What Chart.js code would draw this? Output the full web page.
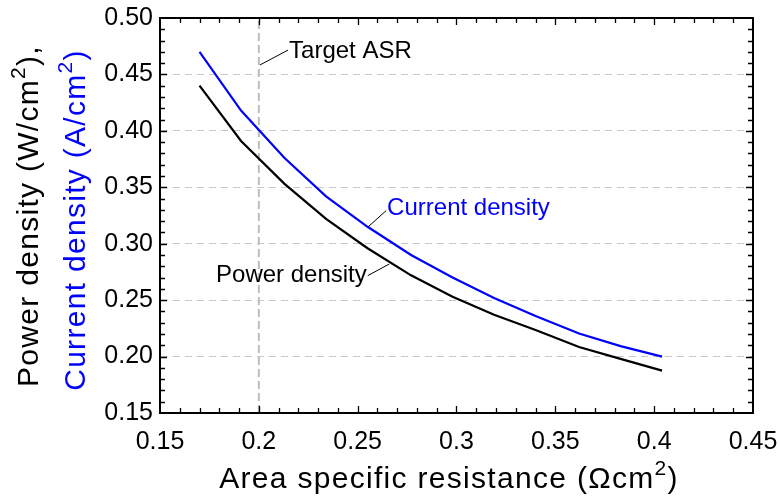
<!DOCTYPE html>
<html>
<head>
<meta charset="utf-8">
<script src="https://cdn.jsdelivr.net/npm/chart.js@4.4.1/dist/chart.umd.min.js"></script>
<style>
  html, body { margin: 0; padding: 0; background: #fff; }
</style>
</head>
<body>
<canvas id="asr-chart" width="780" height="500"></canvas>
<script>
// area specific resistance (ohm cm2)
var asr = [0.170, 0.191, 0.213, 0.234, 0.255, 0.277, 0.298, 0.319, 0.340, 0.362, 0.383, 0.404];
// A/cm2
var currentDensity = [0.470, 0.418, 0.376, 0.342, 0.315, 0.290, 0.270, 0.252, 0.236, 0.2205, 0.2093, 0.200];
// W/cm2
var powerDensity = [0.440, 0.391, 0.353, 0.322, 0.296, 0.272, 0.253, 0.237, 0.2235, 0.2085, 0.198, 0.1875];

var targetAsr = 0.2;
var yRange = [0.15, 0.50];

var xTickLabels = ["0.15", "0.2", "0.25", "0.3", "0.35", "0.4", "0.45"];
var yTickLabels = ["0.15", "0.20", "0.25", "0.30", "0.35", "0.40", "0.45", "0.50"];

var FONT = "'Liberation Sans', Arial, sans-serif";

// labels with leader lines, in data coordinates
var notes = [
    { text: "Target ASR", color: "#000", from: [0.2006, 0.4584], to: [0.2148, 0.4716], at: [0.2153, 0.4643], align: "left" },
    { text: "Current density", color: "#0000ff", from: [0.2554, 0.3151], to: [0.2644, 0.3293], at: [0.2649, 0.3254], align: "left" },
    { text: "Power density", color: "#000", from: [0.2660, 0.2820], to: [0.2551, 0.2717], at: [0.2546, 0.2663], align: "right" }
];

function pts(xs, ys) {
    return xs.map(function(x, i) { return { x: x, y: ys[i] }; });
}

// chart area is fixed by layout.padding, not by label overhang
function noPadding(s) {
    s.paddingTop = s.paddingBottom = s.paddingLeft = s.paddingRight = 0;
}

// text with a superscript part, centered on x
function drawRich(ctx, parts, x, y, size, color) {
    var supSize = Math.round(size * 0.7);
    ctx.save();
    ctx.fillStyle = color;
    ctx.textBaseline = "alphabetic";
    ctx.textAlign = "left";
    ctx.letterSpacing = "1.3px";
    var total = 0;
    parts.forEach(function(p) {
        ctx.font = (p[1] ? supSize : size) + "px " + FONT;
        total += ctx.measureText(p[0]).width;
    });
    var cx = x - total / 2;
    parts.forEach(function(p) {
        ctx.font = (p[1] ? supSize : size) + "px " + FONT;
        ctx.fillText(p[0], cx, p[1] ? y - size * 0.43 : y);
        cx += ctx.measureText(p[0]).width;
    });
    ctx.restore();
}

var framePlugin = {
    id: "frame",
    afterDatasetsDraw: function(chart) {
        var ctx = chart.ctx;
        var a = chart.chartArea;
        var xs = chart.scales.x, ys = chart.scales.y;

        ctx.save();
        ctx.strokeStyle = "#000";
        ctx.lineWidth = 2;
        ctx.strokeRect(a.left, a.top, a.right - a.left, a.bottom - a.top);

        // inward ticks on all four sides, minor every 0.01
        ctx.lineWidth = 1.3;
        ctx.beginPath();
        for (var i = 16; i < 45; i++) {
            var px = Math.round(xs.getPixelForValue(i / 100)) + 0.5;
            var len = i % 5 == 0 ? 7 : 5;
            ctx.moveTo(px, a.bottom); ctx.lineTo(px, a.bottom - len);
            ctx.moveTo(px, a.top); ctx.lineTo(px, a.top + len);
        }
        for (var j = 16; j < 50; j++) {
            var py = Math.round(ys.getPixelForValue(j / 100)) + 0.5;
            var len2 = j % 5 == 0 ? 7 : 5;
            ctx.moveTo(a.left, py); ctx.lineTo(a.left + len2, py);
            ctx.moveTo(a.right, py); ctx.lineTo(a.right - len2, py);
        }
        ctx.stroke();

        // annotations
        notes.forEach(function(n) {
            ctx.strokeStyle = "#000";
            ctx.lineWidth = 1;
            ctx.beginPath();
            ctx.moveTo(xs.getPixelForValue(n.from[0]), ys.getPixelForValue(n.from[1]));
            ctx.lineTo(xs.getPixelForValue(n.to[0]), ys.getPixelForValue(n.to[1]));
            ctx.stroke();
            ctx.fillStyle = n.color;
            ctx.font = "24px " + FONT;
            ctx.textAlign = n.align;
            ctx.textBaseline = "alphabetic";
            ctx.fillText(n.text, xs.getPixelForValue(n.at[0]), ys.getPixelForValue(n.at[1]));
        });
        ctx.restore();
    },
    afterDraw: function(chart) {
        var ctx = chart.ctx;

        drawRich(ctx, [["Area specific resistance (\u03A9cm", false], ["2", true], [")", false]], 449, 488, 30, "#000");

        ctx.save();
        ctx.translate(38, 216);
        ctx.rotate(-Math.PI / 2);
        drawRich(ctx, [["Power density (W/cm", false], ["2", true], ["),", false]], 0, 0, 30, "#000");
        ctx.restore();

        ctx.save();
        ctx.translate(85, 220);
        ctx.rotate(-Math.PI / 2);
        drawRich(ctx, [["Current density (A/cm", false], ["2", true], [")", false]], 0, 0, 30, "#0000ff");
        ctx.restore();
    }
};

var ctx = document.getElementById("asr-chart").getContext("2d");
new Chart(ctx, {
    type: "line",
    data: {
        datasets: [{
            label: "Current density",
            data: pts(asr, currentDensity),
            borderColor: "#0000ff",
            borderWidth: 2.2,
            pointRadius: 0,
            tension: 0
        }, {
            label: "Power density",
            data: pts(asr, powerDensity),
            borderColor: "#000000",
            borderWidth: 2.2,
            pointRadius: 0,
            tension: 0
        }, {
            label: "Target ASR",
            data: pts([targetAsr, targetAsr], yRange),
            borderColor: "#bdbdbd",
            borderWidth: 2,
            borderDash: [8, 4],
            pointRadius: 0
        }]
    },
    options: {
        responsive: false,
        devicePixelRatio: 1,
        animation: false,
        layout: { padding: { top: 18, right: 27, left: 0, bottom: 0 } },
        plugins: {
            legend: { display: false },
            tooltip: { enabled: false }
        },
        scales: {
            x: {
                type: "linear",
                min: 0.15,
                max: 0.45,
                afterFit: function(s) { s.height = 87; noPadding(s); },
                ticks: {
                    stepSize: 0.05,
                    color: "#000",
                    font: { family: FONT, size: 25 },
                    padding: 14,
                    maxRotation: 0,
                    callback: function(v) { return xTickLabels[Math.round((v - 0.15) / 0.05)]; }
                },
                grid: { display: false, drawTicks: false },
                border: { display: true, color: "#000", width: 2 }
            },
            y: {
                min: yRange[0],
                max: yRange[1],
                afterFit: function(s) { s.width = 160; noPadding(s); },
                ticks: {
                    stepSize: 0.05,
                    color: "#000",
                    font: { family: FONT, size: 25 },
                    padding: 7,
                    callback: function(v) { return yTickLabels[Math.round((v - 0.15) / 0.05)]; }
                },
                grid: {
                    drawTicks: false,
                    lineWidth: 1,
                    color: function(c) {
                        var v = c.tick ? c.tick.value : 0;
                        return (v < 0.16 || v > 0.49) ? "rgba(0,0,0,0)" : "#c8c8c8";
                    }
                },
                border: { display: true, color: "#000", width: 2, dash: [7, 5] }
            }
        }
    },
    plugins: [framePlugin]
});
</script>
</body>
</html>
